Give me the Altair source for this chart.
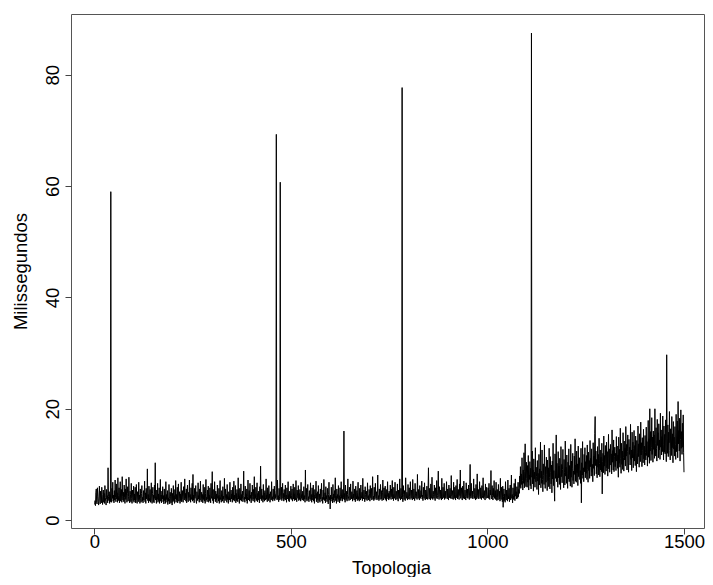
import altair as alt
import pandas as pd

# Milliseconds per topology index in blocks of 250
seg_0001_0250 = [
    2.8, 3.5, 2.6, 4.9, 5.6, 3.1, 2.9, 5.8, 4.2, 3.3, 2.7, 4.5, 6.1, 3.6, 2.9, 5.2, 4.0, 3.1, 5.9, 4.6, 2.8, 3.7, 5.4, 3.2, 4.8,
    3.0, 6.2, 4.1, 3.4, 2.7, 5.5, 3.8, 4.4, 3.1, 9.4, 4.2, 3.5, 5.1, 3.0, 4.6, 3.3, 59.0, 4.0, 3.2, 5.7, 3.9, 6.8, 3.4, 4.5, 3.1,
    5.3, 3.6, 7.2, 4.1, 3.3, 6.5, 3.8, 4.9, 3.2, 7.6, 4.4, 3.5, 5.8, 3.1, 4.7, 6.9, 3.4, 4.0, 5.5, 3.2, 7.8, 4.3, 3.6, 5.0, 3.3,
    6.3, 4.1, 3.0, 5.6, 3.7, 7.4, 4.5, 3.2, 4.8, 6.0, 3.4, 4.2, 7.7, 3.8, 3.1, 5.2, 4.6, 3.3, 6.6, 3.9, 3.0, 5.4, 4.1, 3.5, 6.1,
    3.2, 4.7, 3.6, 5.9, 3.1, 4.3, 6.4, 3.5, 3.0, 5.1, 4.0, 3.3, 6.8, 3.7, 4.5, 3.0, 5.6, 3.9, 3.2, 4.8, 6.2, 3.4, 4.1, 3.1, 5.3,
    3.6, 4.4, 7.0, 3.3, 4.9, 3.0, 5.7, 3.8, 4.2, 9.2, 3.5, 4.6, 3.1, 6.1, 4.0, 3.4, 5.5, 3.2, 4.3, 6.7, 3.6, 3.0, 4.8, 5.9, 3.3,
    4.5, 3.1, 6.3, 3.9, 10.3, 3.6, 4.2, 3.0, 5.4, 3.7, 6.6, 3.2, 4.7, 3.5, 5.8, 3.0, 4.1, 7.3, 3.4, 4.5, 3.1, 5.2, 3.8, 6.0, 3.3,
    4.4, 2.9, 5.6, 3.5, 4.1, 3.0, 6.9, 3.7, 4.6, 3.2, 5.3, 2.8, 4.0, 3.4, 6.4, 3.9, 2.9, 5.0, 4.3, 3.1, 5.7, 3.6, 2.7, 4.8, 3.3,
    6.2, 3.5, 4.4, 3.0, 5.5, 3.8, 7.1, 3.2, 4.6, 3.6, 5.9, 3.1, 4.2, 6.5, 3.4, 3.9, 5.1, 3.0, 4.7, 3.5, 6.8, 3.3, 4.0, 5.3, 3.7,
    3.2, 6.0, 4.3, 3.6, 7.4, 3.9, 4.8, 3.4, 5.6, 3.1, 4.5, 6.3, 3.8, 3.3, 5.0, 4.1, 7.2, 3.5, 4.6, 3.2, 5.8, 3.7, 4.2, 6.6, 3.4,
]
seg_0251_0500 = [
    8.2, 3.6, 4.5, 3.1, 5.7, 3.9, 4.3, 6.2, 3.4, 3.0, 5.1, 4.0, 3.5, 6.7, 3.8, 4.4, 3.2, 5.6, 3.6, 7.0, 4.1, 3.3, 5.0, 3.9, 4.6,
    3.1, 6.4, 3.7, 4.2, 3.4, 5.9, 3.0, 4.8, 7.3, 3.6, 4.1, 3.3, 5.4, 3.8, 6.1, 3.2, 4.5, 3.5, 5.8, 4.0, 3.1, 6.6, 3.9, 4.4, 8.7,
    3.5, 4.2, 3.0, 5.5, 3.8, 6.9, 4.1, 3.3, 5.2, 3.6, 4.7, 3.1, 6.3, 3.9, 4.4, 3.4, 5.7, 3.0, 4.6, 7.1, 3.7, 4.0, 3.2, 5.3, 4.8,
    3.4, 6.0, 3.8, 4.3, 3.1, 7.5, 4.1, 3.5, 5.6, 3.9, 4.6, 3.2, 6.4, 3.7, 4.2, 3.0, 5.1, 4.5, 3.6, 6.8, 3.3, 4.0, 5.4, 3.8, 4.7,
    3.2, 5.9, 4.1, 3.6, 7.0, 3.4, 4.5, 3.9, 6.2, 3.1, 4.8, 3.5, 5.5, 4.0, 3.3, 7.6, 3.8, 4.3, 3.0, 5.7, 4.2, 3.6, 6.5, 3.4, 4.6,
    3.9, 5.2, 3.3, 4.4, 8.8, 3.7, 4.1, 3.2, 6.1, 3.8, 4.7, 3.5, 5.6, 3.0, 4.3, 7.2, 3.6, 4.0, 5.3, 3.4, 6.6, 3.9, 4.5, 3.1, 5.0,
    3.7, 6.3, 4.2, 3.4, 5.5, 3.8, 7.8, 3.2, 4.6, 3.9, 5.9, 3.5, 4.1, 6.7, 3.3, 4.8, 3.6, 5.2, 4.0, 3.1, 6.0, 3.8, 9.7, 4.3, 3.5,
    5.6, 3.9, 4.4, 3.2, 6.4, 3.7, 4.9, 3.4, 5.3, 4.1, 3.6, 7.4, 3.8, 4.5, 3.3, 5.8, 4.0, 3.5, 6.2, 3.9, 4.7, 3.2, 5.1, 4.3, 3.6,
    6.9, 3.8, 4.2, 3.4, 5.6, 4.0, 3.7, 6.1, 3.5, 4.6, 3.9, 5.3, 69.3, 4.1, 3.6, 7.2, 3.8, 4.4, 3.3, 5.7, 4.2, 3.6, 60.7, 4.5, 3.8,
    5.9, 3.5, 4.3, 6.6, 3.9, 4.8, 3.4, 5.5, 4.1, 3.7, 6.3, 3.6, 4.5, 3.2, 5.8, 4.0, 3.8, 6.9, 3.5, 4.6, 3.3, 5.2, 4.2, 3.9, 6.1,
]
seg_0501_0750 = [
    3.7, 4.4, 5.6, 3.4, 4.1, 6.5, 3.8, 4.7, 3.5, 5.9, 4.2, 3.6, 7.1, 4.0, 3.3, 5.4, 4.5, 3.9, 6.2, 3.5, 4.8, 3.7, 5.5, 4.1, 3.4,
    6.8, 3.9, 4.6, 3.6, 5.2, 4.3, 3.5, 6.0, 3.8, 4.4, 3.2, 9.0, 4.1, 3.7, 5.7, 3.4, 4.9, 6.4, 3.6, 4.2, 3.3, 5.3, 4.0, 3.8, 6.7,
    3.5, 4.6, 3.2, 5.8, 4.1, 3.6, 6.3, 3.4, 4.5, 3.0, 5.5, 3.9, 4.2, 7.0, 3.3, 4.8, 3.7, 5.1, 3.1, 6.2, 4.0, 3.5, 4.7, 3.2, 5.6,
    3.8, 4.3, 6.6, 3.4, 4.1, 3.0, 5.4, 3.7, 7.3, 4.2, 3.5, 4.9, 3.1, 6.0, 3.8, 4.4, 3.3, 5.7, 4.0, 2.9, 4.6, 6.8, 3.6, 4.2, 2.0,
    4.5, 3.4, 5.9, 3.8, 4.1, 3.1, 6.4, 3.6, 4.7, 3.2, 5.3, 4.0, 7.6, 3.5, 4.3, 3.0, 5.6, 3.9, 4.6, 3.3, 6.2, 3.7, 4.4, 3.1, 5.8,
    4.2, 3.5, 6.9, 3.9, 4.5, 3.4, 5.5, 3.8, 4.1, 16.0, 3.6, 4.8, 3.2, 6.3, 4.0, 3.7, 5.2, 3.4, 4.6, 7.4, 3.9, 4.2, 3.5, 5.9, 4.4,
    3.6, 6.5, 4.0, 3.8, 5.1, 4.3, 3.4, 7.0, 3.9, 4.7, 3.6, 5.6, 4.1, 3.3, 6.1, 4.4, 3.8, 5.3, 3.5, 4.9, 6.8, 3.7, 4.2, 3.4, 5.7,
    4.0, 3.6, 6.3, 4.5, 3.9, 5.0, 3.5, 7.5, 4.2, 3.8, 5.4, 4.1, 3.3, 6.0, 4.6, 3.7, 5.2, 4.0, 3.5, 6.7, 3.9, 4.4, 3.6, 5.5, 4.8,
    3.4, 6.2, 4.1, 3.9, 5.7, 3.6, 4.5, 7.8, 3.8, 4.3, 3.5, 5.9, 4.0, 3.7, 6.6, 4.2, 3.9, 5.1, 3.6, 4.7, 8.1, 3.8, 4.4, 3.5, 5.6,
    4.1, 3.7, 6.4, 4.6, 3.8, 5.3, 3.5, 4.9, 7.2, 4.0, 3.6, 5.8, 4.3, 3.9, 6.1, 3.7, 4.5, 3.4, 5.5, 4.2, 6.9, 3.8, 4.8, 3.6, 5.2,
]
seg_0751_1000 = [
    3.9, 4.4, 6.3, 4.0, 3.7, 5.6, 4.2, 7.1, 3.8, 4.6, 3.5, 5.9, 4.3, 3.9, 6.8, 4.1, 3.6, 5.2, 4.7, 3.8, 6.5, 4.0, 3.4, 5.4, 4.5,
    3.9, 7.4, 4.2, 3.6, 5.7, 4.4, 3.8, 77.7, 4.1, 3.3, 6.2, 4.6, 3.7, 5.3, 4.0, 3.5, 7.6, 4.3, 3.9, 5.0, 4.5, 3.6, 6.4, 4.1, 3.8,
    5.8, 4.2, 3.7, 6.9, 4.5, 3.9, 5.4, 4.1, 3.6, 7.3, 4.4, 3.8, 5.6, 4.0, 3.5, 6.6, 4.7, 3.9, 5.1, 4.2, 3.7, 8.2, 4.3, 3.9, 5.5,
    4.1, 3.6, 6.2, 4.6, 3.9, 5.3, 4.2, 7.0, 3.8, 4.5, 3.5, 5.9, 4.3, 3.9, 6.7, 4.0, 3.6, 5.4, 4.8, 3.8, 6.1, 4.2, 3.7, 5.6, 9.4,
    4.0, 3.8, 5.7, 4.4, 3.6, 6.5, 4.1, 3.9, 7.7, 4.3, 3.7, 5.2, 4.6, 3.9, 6.3, 4.2, 3.5, 5.8, 4.5, 4.0, 7.1, 3.8, 4.4, 5.5, 8.8,
    4.1, 3.7, 6.0, 4.6, 3.9, 5.4, 4.3, 3.6, 7.5, 4.2, 3.8, 5.9, 4.5, 4.0, 6.6, 3.7, 4.4, 5.2, 3.9, 4.7, 6.9, 4.1, 3.8, 5.6, 4.3,
    3.6, 6.3, 4.5, 4.0, 5.7, 3.9, 4.6, 8.0, 4.2, 3.8, 5.3, 4.4, 3.7, 6.8, 4.1, 3.9, 5.9, 4.6, 3.6, 6.2, 4.3, 4.0, 7.3, 3.8, 4.5,
    5.5, 4.1, 3.7, 6.5, 4.4, 9.0, 3.9, 4.6, 5.8, 4.0, 3.6, 6.1, 4.3, 3.9, 7.0, 4.5, 3.8, 5.4, 4.2, 3.6, 6.7, 4.7, 4.0, 5.6, 3.9,
    4.4, 6.3, 4.1, 3.7, 5.9, 10.0, 4.3, 3.9, 6.6, 4.5, 4.0, 5.2, 3.8, 4.6, 7.4, 4.2, 3.9, 5.7, 4.4, 3.6, 6.4, 4.1, 3.8, 8.3, 4.5,
    4.0, 5.5, 3.8, 4.3, 6.9, 4.6, 3.9, 5.8, 4.2, 3.7, 6.2, 4.4, 4.0, 7.6, 3.9, 4.5, 5.3, 4.1, 3.6, 6.5, 4.3, 3.9, 5.9, 4.6, 4.0,
]
seg_1001_1250 = [
    4.3, 5.8, 3.9, 6.6, 4.1, 3.7, 5.4, 4.5, 8.9, 4.0, 3.8, 6.2, 4.4, 3.6, 5.7, 4.2, 7.1, 3.9, 4.6, 5.3, 3.7, 6.8, 4.1, 3.5, 5.5,
    4.0, 3.6, 6.4, 4.3, 3.8, 5.2, 3.4, 7.5, 4.1, 3.7, 5.9, 4.4, 3.3, 6.1, 2.3, 4.2, 5.6, 3.5, 4.7, 3.2, 6.9, 4.0, 3.6, 5.4, 4.3,
    3.4, 7.2, 4.5, 3.8, 5.7, 3.3, 4.9, 6.3, 3.6, 4.2, 8.1, 3.9, 4.6, 3.1, 5.8, 4.4, 3.7, 6.6, 4.0, 3.5, 7.4, 4.3, 5.1, 3.8, 6.0,
    4.6, 3.9, 6.8, 4.2, 5.5, 4.8, 7.9, 6.0, 9.6, 5.7, 8.3, 6.4, 11.2, 7.1, 5.4, 9.0, 6.6, 12.1, 5.8, 8.7, 13.7, 7.2, 6.0, 10.4, 7.5,
    5.9, 9.8, 6.8, 11.6, 5.4, 8.1, 7.3, 10.5, 6.2, 9.3, 5.6, 87.5, 7.7, 12.4, 6.5, 9.0, 5.2, 11.0, 7.4, 8.6, 5.9, 13.0, 6.9, 9.5, 7.8,
    5.5, 10.7, 7.0, 8.4, 4.6, 11.8, 6.3, 9.2, 7.6, 14.0, 5.8, 8.8, 6.6, 12.6, 7.3, 5.1, 10.1, 8.0, 6.4, 13.5, 7.9, 5.7, 9.6, 6.8, 11.3,
    8.2, 5.3, 10.8, 7.1, 9.4, 6.0, 12.9, 7.7, 5.6, 11.4, 8.5, 6.5, 9.9, 4.9, 10.6, 7.4, 13.8, 6.2, 8.9, 5.8, 3.4, 11.9, 7.5, 9.3, 15.3,
    6.9, 10.2, 8.1, 5.9, 12.3, 7.6, 9.7, 6.4, 11.1, 8.4, 5.5, 13.2, 7.8, 10.0, 6.7, 9.1, 12.7, 7.2, 5.8, 10.9, 8.6, 6.3, 14.2, 7.9, 9.5,
    6.6, 11.7, 8.3, 5.7, 10.4, 7.4, 12.8, 6.9, 9.8, 8.0, 6.1, 13.6, 7.7, 10.6, 5.9, 9.2, 12.0, 7.1, 8.8, 6.5, 11.5, 8.2, 14.6, 7.0, 9.9,
    6.8, 12.4, 8.5, 10.1, 6.2, 13.3, 7.8, 9.6, 11.2, 7.3, 8.9, 6.6, 12.9, 3.1, 10.3, 8.1, 14.1, 7.5, 9.4, 6.9, 11.8, 8.7, 13.0, 7.6, 10.5,
]
seg_1251_1500 = [
    8.4, 11.6, 7.3, 13.5, 9.1, 6.8, 12.2, 8.9, 10.7, 7.5, 14.3, 9.6, 11.1, 7.9, 12.8, 8.6, 10.0, 6.9, 13.9, 9.3, 11.5, 8.0, 15.6, 18.6, 9.8,
    12.4, 8.3, 10.9, 7.6, 13.2, 9.5, 11.8, 8.1, 14.7, 10.2, 7.8, 12.6, 9.0, 11.3, 8.7, 13.8, 4.7, 10.5, 12.0, 8.5, 15.1, 9.7, 11.6, 8.2, 13.4,
    10.1, 8.8, 14.0, 9.4, 12.3, 7.9, 11.0, 15.4, 9.2, 12.8, 8.6, 10.7, 13.6, 9.9, 11.9, 8.3, 16.2, 10.4, 12.5, 9.0, 14.4, 8.7, 11.4, 13.1, 9.6,
    12.0, 8.9, 15.0, 10.6, 13.3, 9.3, 11.7, 7.7, 14.9, 10.2, 12.7, 9.5, 16.5, 11.1, 8.4, 13.8, 10.0, 12.4, 9.1, 15.7, 11.3, 8.8, 14.2, 10.8, 12.9,
    9.7, 16.8, 11.5, 13.6, 9.0, 12.3, 15.3, 10.4, 8.6, 14.5, 11.8, 13.1, 9.9, 17.2, 10.9, 12.6, 8.9, 15.8, 11.2, 14.0, 9.4, 12.8, 16.1, 10.6, 13.4,
    9.8, 15.1, 11.9, 8.7, 14.3, 12.2, 10.1, 16.9, 11.4, 13.7, 9.5, 15.5, 12.0, 10.5, 17.6, 11.7, 13.9, 9.6, 14.8, 12.5, 10.3, 16.3, 11.0, 13.3, 9.9,
    15.2, 12.1, 10.8, 16.7, 11.6, 14.1, 9.7, 13.5, 17.9, 11.3, 14.6, 10.2, 20.0, 12.4, 15.9, 10.7, 13.0, 18.4, 11.8, 14.9, 10.4, 16.0, 12.7, 15.3, 11.1,
    20.0, 13.8, 11.5, 16.6, 12.9, 10.6, 18.1, 13.4, 15.7, 11.2, 17.3, 12.6, 14.4, 10.9, 19.2, 13.1, 16.2, 11.7, 15.0, 12.3, 18.7, 13.6, 10.8, 16.9, 12.2,
    15.4, 11.9, 18.0, 13.3, 10.5, 29.7, 14.7, 12.0, 17.1, 11.4, 15.8, 13.9, 19.5, 12.5, 10.8, 16.4, 14.2, 11.6, 18.6, 13.0, 15.5, 10.3, 17.7, 12.8, 14.9,
    11.5, 16.8, 13.6, 10.9, 19.0, 12.3, 15.2, 17.8, 11.2, 21.3, 13.7, 16.1, 12.4, 18.3, 10.6, 14.5, 19.8, 12.9, 15.9, 11.8, 17.4, 13.1, 18.9, 12.2, 8.6,
]

x_ticks = [0, 500, 1000, 1500]
y_ticks = [0, 20, 40, 60, 80]

values = seg_0001_0250 + seg_0251_0500 + seg_0501_0750 + seg_0751_1000 + seg_1001_1250 + seg_1251_1500
df = pd.DataFrame({"Topologia": list(range(1, len(values) + 1)), "ms": values})

FONT = "Liberation Sans"

chart = (
    alt.Chart(df)
    .mark_line(color="black", strokeWidth=1)
    .encode(
        x=alt.X(
            "Topologia:Q",
            scale=alt.Scale(domain=[-59.27, 1550.9], nice=False, zero=False),
            axis=alt.Axis(
                values=x_ticks, domain=False, grid=False, format="d",
                tickSize=6, tickColor="#444", tickWidth=1,
                labelFont=FONT, labelFontSize=18.5, labelColor="black",
                labelBaseline="alphabetic", labelPadding=13.5,
                labelFlush=False, labelOverlap=False,
                title="Topologia", titleFont=FONT, titleFontSize=18.5,
                titleFontWeight="normal", titleColor="black",
                titleX=320, titleY=45, titleBaseline="alphabetic", titleAlign="center",
            ),
        ),
        y=alt.Y(
            "ms:Q",
            scale=alt.Scale(domain=[-1.42, 90.92], nice=False, zero=False),
            axis=alt.Axis(
                values=y_ticks, domain=False, grid=False, format="d",
                tickSize=6, tickColor="#444", tickWidth=1,
                labelFont=FONT, labelFontSize=18.5, labelColor="black",
                labelAngle=270, labelAlign="center", labelBaseline="alphabetic",
                labelPadding=7, labelFlush=False, labelOverlap=False,
                title="Milissegundos", titleFont=FONT, titleFontSize=18.5,
                titleFontWeight="normal", titleColor="black",
                titleAngle=270, titleX=-45, titleY=257,
                titleBaseline="alphabetic", titleAlign="center",
            ),
        ),
    )
    .properties(
        width=633,
        height=514,
        autosize=alt.AutoSizeParams(type="none"),
        padding={"left": 63, "top": 6, "right": 1, "bottom": 49},
    )
    .configure_view(stroke="#555", strokeWidth=1)
)

chart.save("out.html", embed_options={"renderer": "svg", "actions": False})
